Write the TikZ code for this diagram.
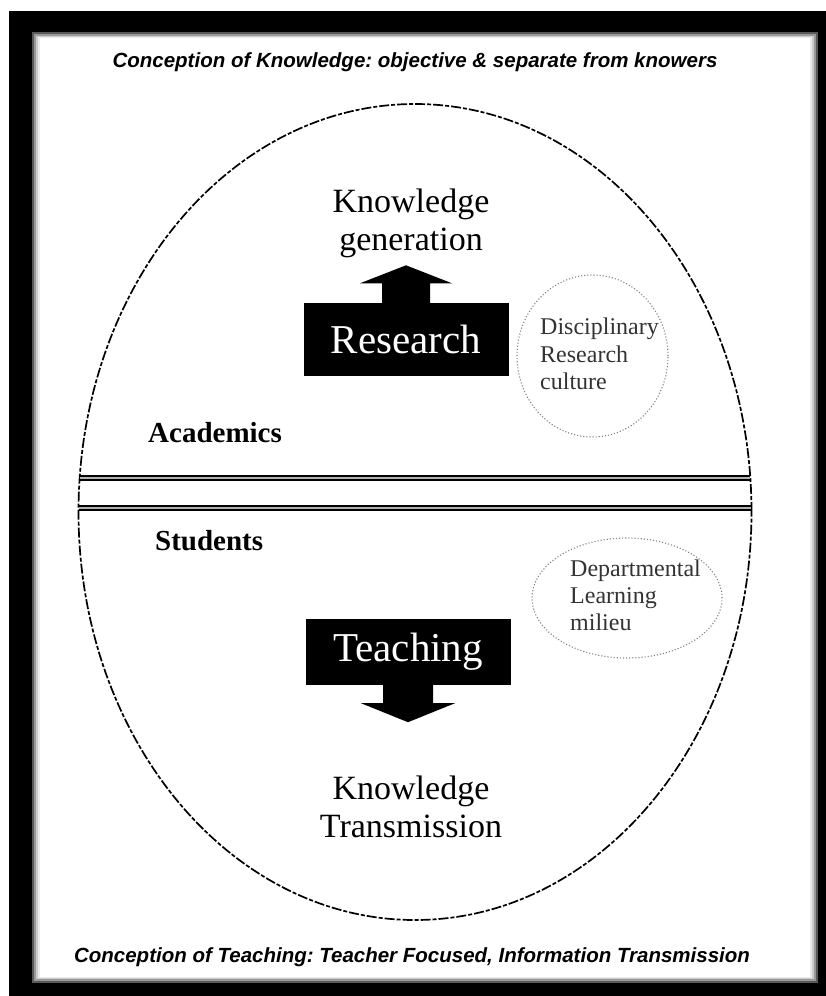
\documentclass[tikz,border=0pt]{standalone}
\usepackage{fontspec}
\setmainfont{Liberation Serif}
\newfontfamily\titlefam{Liberation Sans}
\usetikzlibrary{shapes.geometric,calc}
\frenchspacing
\tikzset{
  titletext/.style={font=\titlefam\bfseries\itshape\fontsize{20.5}{22}\selectfont, inner sep=0pt},
  bigtext/.style={font=\fontsize{34}{38}\selectfont, inner sep=0pt, anchor=base},
  grouptext/.style={font=\bfseries\fontsize{29}{32}\selectfont, inner sep=0pt, anchor=base west},
  smalltext/.style={font=\fontsize{24}{27}\selectfont, inner sep=0pt, anchor=base west, text=black!80},
  blackbox/.style={fill=black, text=white, minimum width=205pt, inner sep=0pt, font=\fontsize{41}{44}\selectfont},
  outline/.style={draw=black, line width=1.7pt, dash pattern=on 10pt off 2pt on 4pt off 2pt},
  dotline/.style={draw=black!50, line width=1.1pt, dotted},
  bar/.style={draw=black, line width=2.6pt, double=black!30, double distance=1.2pt},
}
\begin{document}
\begin{tikzpicture}[x=1pt,y=-1pt]
\useasboundingbox (0,0) rectangle (826,996);
% frame
\fill[white] (0,0) rectangle (826,996);
\fill[black] (9,11) rectangle (826,996);
\fill[black!65] (32,32) rectangle (818,983);
\fill[black!40] (34,34) rectangle (816,981);
\fill[black!20] (36,36) rectangle (814,979);
\fill[black!8] (38,37) rectangle (812,978);
\fill[white] (40,38) rectangle (810,977);
% titles
\node[titletext] (t1) at (415,62) {Conception of Knowledge: objective \& separate from knowers};
\node[titletext] (t2) at (412,957) {Conception of Teaching: Teacher Focused, Information Transmission};
% big ellipse
\node[outline, ellipse, minimum width=673pt, minimum height=816pt, inner sep=0pt] (outer) at (415,512) {};
% bars
\coordinate (b1l) at (79.7,478);
\coordinate (b1r) at (750.3,478);
\coordinate (b2l) at (78.6,508);
\coordinate (b2r) at (751.4,508);
\draw[bar] (b1l) -- (b1r);
\draw[bar] (b2l) -- (b2r);
% group labels
\node[grouptext] (acad) at (148,442) {Academics};
\node[grouptext] (stud) at (155,550) {Students};
% research
\node[blackbox, minimum height=73pt] (research) at (406,339) {Research};
\fill[black] ($(research.north)+(-24,0.5)$) -- ($(research.north)+(-24,-19)$) -- ($(research.north)+(-46,-19)$) -- ($(research.north)+(0,-37)$) -- ($(research.north)+(46,-19)$) -- ($(research.north)+(24,-19)$) -- ($(research.north)+(24,0.5)$) -- cycle;
\node[bigtext] (kg1) at (411,212.5) {Knowledge};
\node[bigtext] (kg2) at (411,250.5) {generation};
% teaching
\node[blackbox, minimum height=66pt] (teaching) at (408,652) {Teaching};
\fill[black] ($(teaching.south)+(-25,-0.5)$) -- ($(teaching.south)+(-25,18)$) -- ($(teaching.south)+(-47,18)$) -- ($(teaching.south)+(0,37)$) -- ($(teaching.south)+(47,18)$) -- ($(teaching.south)+(25,18)$) -- ($(teaching.south)+(25,-0.5)$) -- cycle;
\node[bigtext] (kt1) at (411,799) {Knowledge};
\node[bigtext] (kt2) at (411,837) {Transmission};
% disciplinary circle
\node[dotline, ellipse, minimum width=151pt, minimum height=162pt, inner sep=0pt] (disc) at (592.5,356) {};
\node[smalltext] (d1) at (540,334) {Disciplinary};
\node[smalltext] (d2) at (540,362) {Research};
\node[smalltext] (d3) at (540,389) {culture};
% departmental ellipse
\node[dotline, ellipse, minimum width=190pt, minimum height=120pt, inner sep=0pt] (dept) at (627,598) {};
\node[smalltext] (e1) at (570,576) {Departmental};
\node[smalltext] (e2) at (570,603) {Learning};
\node[smalltext] (e3) at (570,630) {milieu};
\end{tikzpicture}
\end{document}
